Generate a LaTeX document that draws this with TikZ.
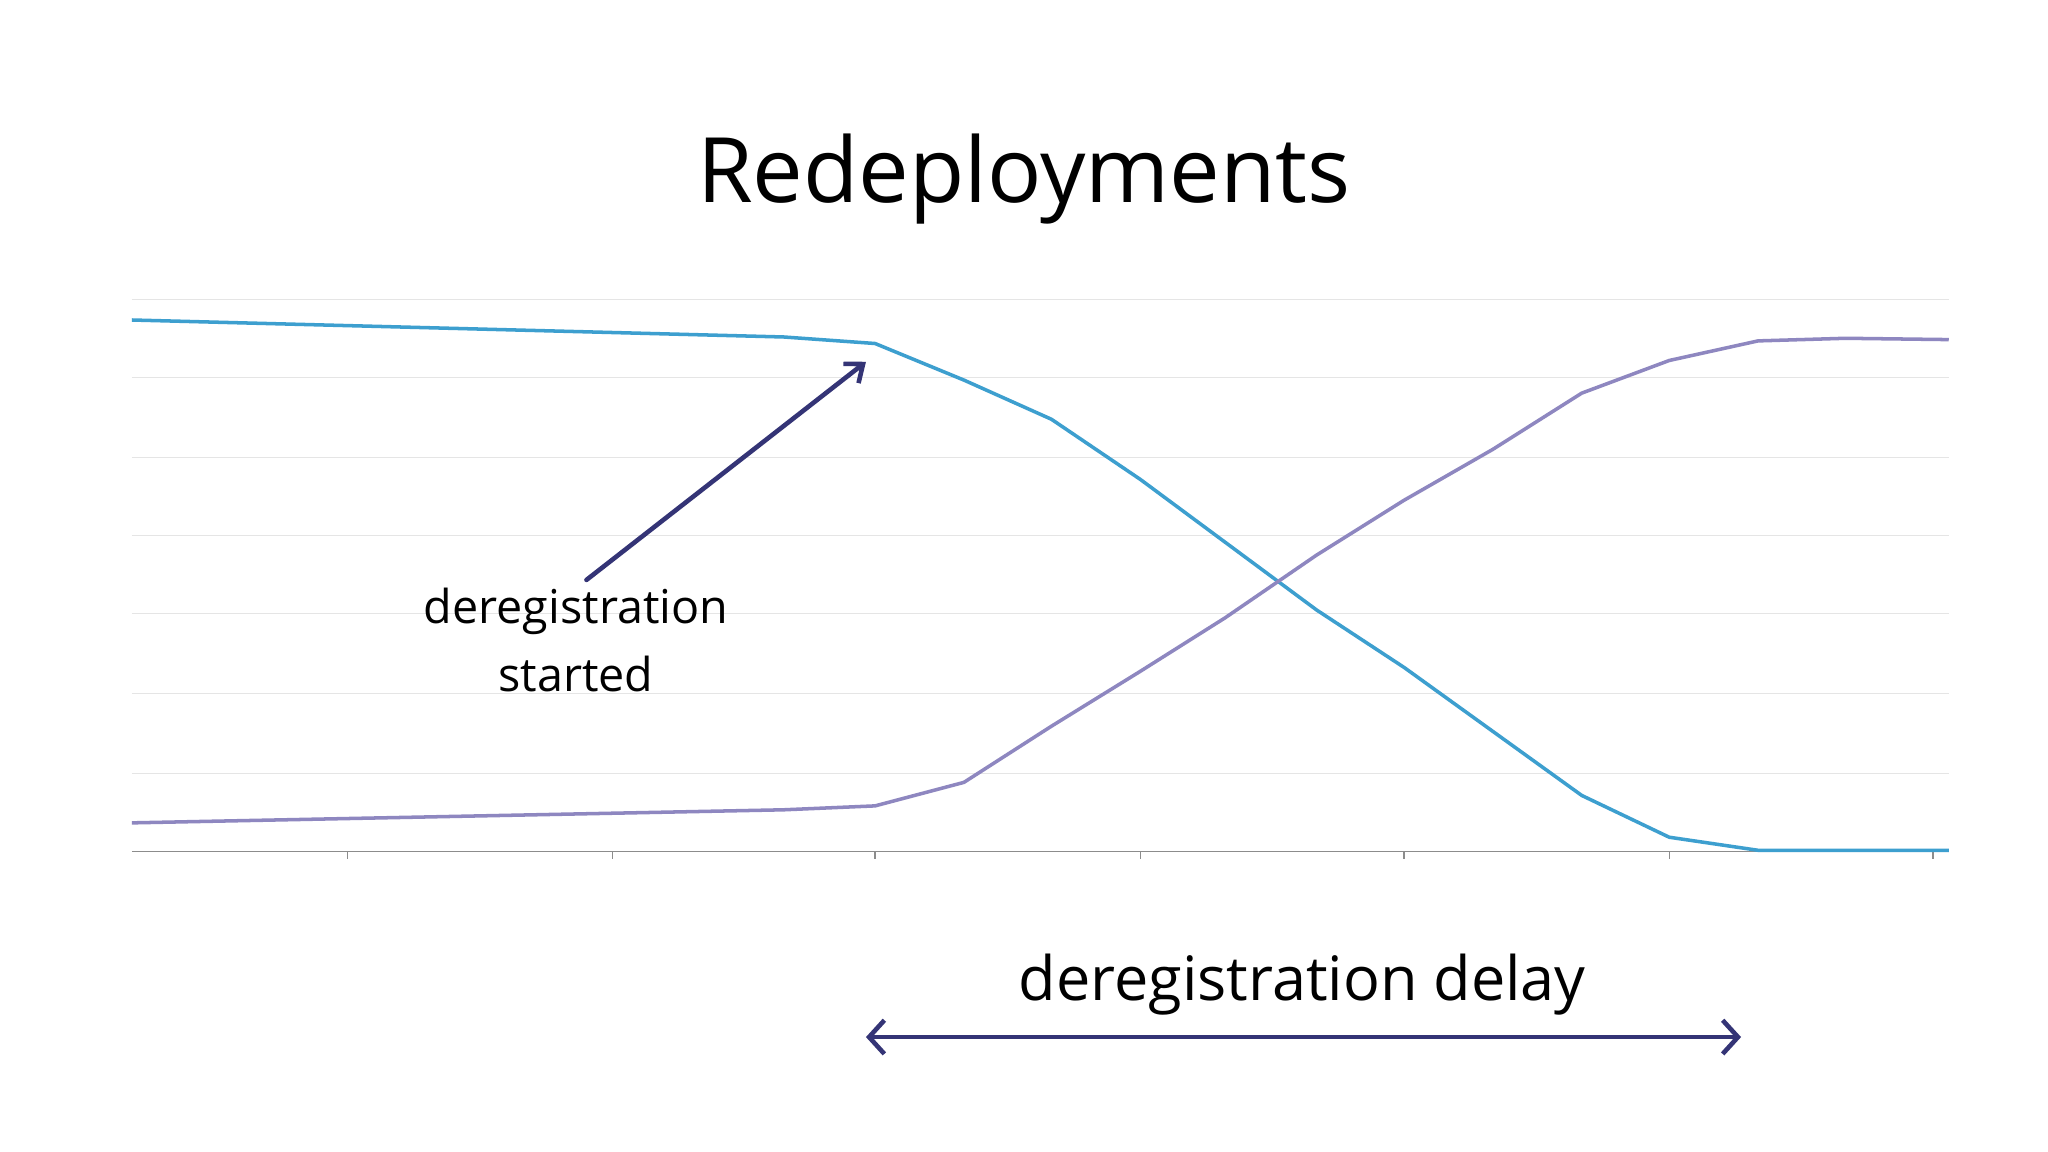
\documentclass[tikz,border=0pt]{standalone}
\usetikzlibrary{arrows.meta}
\usepackage{fontspec}
\setmainfont{Open Sans}
\begin{document}
\begin{tikzpicture}[x=0.3mm,y=-0.3mm,
  grid/.style={draw=black!10,line width=0.6pt},
  series/.style={line width=2.3pt,line join=round},
  navy/.style={draw={rgb,255:red,52;green,52;blue,118},line width=3pt,line cap=round}]
\definecolor{cblue}{RGB}{61,159,207}
\definecolor{cpurp}{RGB}{142,135,192}
\useasboundingbox (0,0) rectangle (1568,882);
\fill[white] (0,0) rectangle (1568,882);
\node[font=\fontsize{59}{66}\selectfont] (title) at (784,137) {Redeployments};
\foreach \y in {229,289,350,410,470,531,592}
  \draw[grid] (101,\y) -- (1492,\y);
\draw[black!45,line width=0.8pt] (101,652) -- (1492,652);
\foreach \x in {266,469,670,873,1075,1278,1480}
  \draw[black!45,line width=0.8pt] (\x,652) -- (\x,658);
\draw[series,cblue] (101,245)--(600,258)--(670,263)--(738,291)--(805,321)--(873,367)--(1008,467)--(1075,511)--(1143,560)--(1211,609)--(1278,641)--(1346,651)--(1492,651);
\draw[series,cpurp] (101,630)--(600,620)--(670,617)--(738,599)--(805,556)--(873,514)--(938,473)--(1008,425)--(1075,383)--(1143,344)--(1211,301)--(1278,276)--(1346,261)--(1413,259)--(1492,260);
\node[font=\fontsize{30.5}{44}\selectfont,align=center] (lbl) at (441,490) {deregistration\\started};
\coordinate (src) at (449,444);
\coordinate (tip) at (663,277);
\draw[navy,->,>={Straight Barb[length=10pt,width=16pt]}] (src) -- (tip);
\node[font=\fontsize{40}{48}\selectfont] (delay) at (997,754) {deregistration delay};
\coordinate (dl) at (663,794);
\coordinate (dr) at (1333,794);
\draw[navy,<->,>={Straight Barb[length=10pt,width=22pt]}] (dl) -- (dr);
\end{tikzpicture}
\end{document}
